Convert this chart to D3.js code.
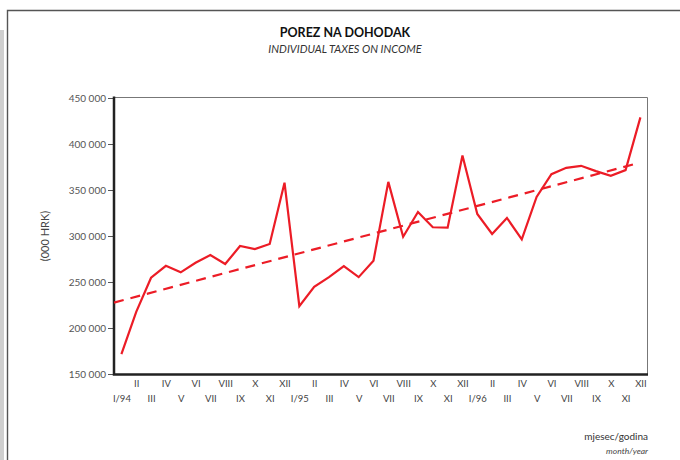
<!DOCTYPE html>
<html>
<head>
<meta charset="utf-8">
<script src="https://cdn.jsdelivr.net/npm/d3@7"></script>
<style>
  body { margin: 0; background: #fff; }
  svg { display: block; font-family: Lato, "Open Sans", sans-serif; }
</style>
</head>
<body>
<svg id="chart" width="680" height="460"></svg>
<script>
'use strict'

// monthly values, '000 HRK, I/94 .. XII/96
var months = [
  'I/94','II','III','IV','V','VI','VII','VIII','IX','X','XI','XII',
  'I/95','II','III','IV','V','VI','VII','VIII','IX','X','XI','XII',
  'I/96','II','III','IV','V','VI','VII','VIII','IX','X','XI','XII'
]
var taxes = [
  171500, 217500, 254600, 267600, 260500, 270900, 279300, 269500, 289100, 285800, 291300, 358000,
  223700, 244800, 255300, 267300, 255300, 273100, 358800, 299200, 326100, 309500, 309000, 387500,
  324000, 302200, 319600, 296400, 342500, 367200, 374100, 376300, 370500, 365400, 371600, 428900
]
// trend line end points (month index, value)
var trendIdx = [-0.5, 34.8]
var trendVal = [227600, 379000]
var yTicks = [150000, 200000, 250000, 300000, 350000, 400000, 450000]

var svg = d3.select('#chart')
  , red = '#ec1c26'
  , x = d3.scaleLinear().domain([0, 35]).range([121.4, 640.4])
  , y = d3.scaleLinear().domain([150000, 450000]).range([374, 98])
  , fmt = d3.formatLocale({decimal: ',', thousands: ' ', grouping: [3], currency: ['', '']}).format(',')

// page frame
svg.append('rect').attr('x', 0).attr('y', 30).attr('width', 4).attr('height', 430).attr('fill', '#cfcfcf')
svg.append('path').attr('d', 'M7.5,460V10.5H680').attr('fill', 'none').attr('stroke', '#555').attr('stroke-width', 1.4)

// titles
svg.append('text').attr('x', 345).attr('y', 37).attr('text-anchor', 'middle')
  .style('font-size', '12.5px').style('font-weight', 'bold').attr('fill', '#111').text('POREZ NA DOHODAK')
svg.append('text').attr('x', 345).attr('y', 53).attr('text-anchor', 'middle')
  .style('font-size', '11px').style('font-style', 'italic').attr('fill', '#333').text('INDIVIDUAL TAXES ON INCOME')

// plot box: thin top/right, heavy left/bottom
svg.append('path').attr('d', 'M114,97.5H647.5V374').attr('fill', 'none').attr('stroke', '#777').attr('stroke-width', 1)

var yAxis = svg.append('g').attr('transform', 'translate(114,0)')
  .call(d3.axisLeft(y).tickValues(yTicks).tickSize(6).tickPadding(2).tickFormat(fmt))
yAxis.select('.domain').remove()
yAxis.selectAll('line').attr('stroke', '#555')
yAxis.selectAll('text').attr('fill', '#555').style('font-size', '10px').style('font-family', 'Lato, sans-serif')

svg.append('path').attr('d', 'M114,96.5V374.5H648').attr('fill', 'none').attr('stroke', '#222').attr('stroke-width', 2.5)

svg.append('text').attr('transform', 'translate(49,236) rotate(-90)').attr('text-anchor', 'middle')
  .style('font-size', '11px').attr('fill', '#444').text('(000 HRK)')

// month labels in two staggered rows
function monthAxis(idx, pad){
  var g = svg.append('g').attr('transform', 'translate(0,374)')
    .call(d3.axisBottom(x).tickValues(idx).tickSize(0).tickPadding(pad).tickFormat(function(i){ return months[i] }))
  g.select('.domain').remove()
  g.selectAll('text').attr('fill', '#444').style('font-size', '9.5px').style('font-family', 'Lato, sans-serif')
}
monthAxis(d3.range(1, 36, 2), 6)
monthAxis(d3.range(0, 36, 2), 21)

svg.append('text').attr('x', 648).attr('y', 440).attr('text-anchor', 'end')
  .style('font-size', '10px').attr('fill', '#333').text('mjesec/godina')
svg.append('text').attr('x', 648).attr('y', 454).attr('text-anchor', 'end')
  .style('font-size', '8.5px').style('font-style', 'italic').attr('fill', '#444').text('month/year')

// series
var line = d3.line().x(function(d, i){ return x(i) }).y(function(d){ return y(d) })
svg.append('path').datum(taxes).attr('d', line)
  .attr('fill', 'none').attr('stroke', red).attr('stroke-width', 2.2).attr('stroke-linejoin', 'miter')

svg.append('path').datum(d3.zip(trendIdx, trendVal))
  .attr('d', d3.line().x(function(d){ return x(d[0]) }).y(function(d){ return y(d[1]) }))
  .attr('fill', 'none').attr('stroke', red).attr('stroke-width', 2.2).attr('stroke-dasharray', '10,7')
</script>
</body>
</html>
